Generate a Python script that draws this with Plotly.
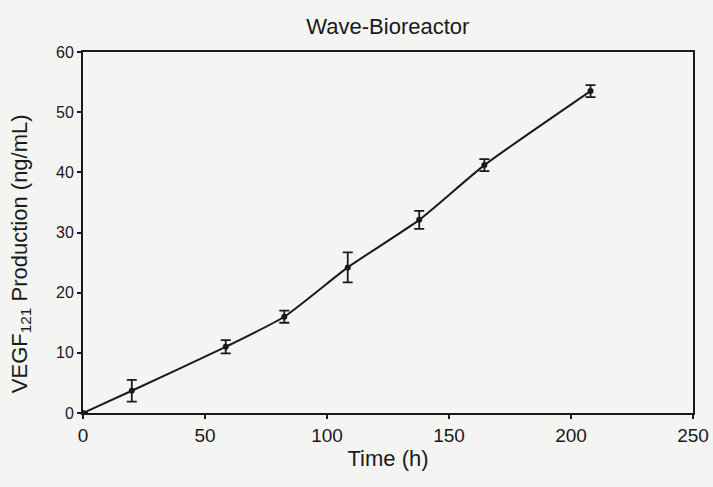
import plotly.graph_objects as go

time_h = [0, 20, 58.5, 82.5, 108.5, 137.8, 164.5, 208]
vegf = [0, 3.7, 11.0, 16.0, 24.2, 32.1, 41.2, 53.5]
vegf_err = [0, 1.8, 1.1, 1.0, 2.5, 1.5, 1.0, 1.0]

x_ticks = [0, 50, 100, 150, 200, 250]
y_ticks = [0, 10, 20, 30, 40, 50, 60]

bg = "#f4f4f2"
ink = "#1a1a1a"

fig = go.Figure()
fig.add_trace(go.Scatter(
    x=time_h, y=vegf,
    mode="lines+markers",
    line=dict(color=ink, width=2, shape="spline", smoothing=0.5),
    marker=dict(color=ink, size=6),
    error_y=dict(type="data", array=vegf_err, visible=True,
                 color=ink, thickness=1.8, width=5),
    showlegend=False,
))

font = "Liberation Sans, Arial, sans-serif"
fig.update_layout(
    width=713, height=487,
    margin=dict(l=83, r=20, t=52, b=74),
    paper_bgcolor=bg, plot_bgcolor=bg,
    font=dict(family=font, color=ink),
    title=dict(text="Wave-Bioreactor", x=0.544, xanchor="center",
               y=0.946, yanchor="middle", font=dict(size=22, family=font, color=ink)),
    xaxis=dict(range=[0, 250], tickvals=x_ticks, showgrid=False, zeroline=False,
               showline=True, linecolor=ink, linewidth=2, mirror=True,
               ticks="outside", ticklen=4, tickwidth=1.5, tickcolor=ink,
               tickfont=dict(size=19), automargin=False,
               title=dict(text="Time (h)", font=dict(size=22), standoff=6)),
    yaxis=dict(range=[0, 60], tickvals=y_ticks, showgrid=False, zeroline=False,
               showline=True, linecolor=ink, linewidth=2, mirror=True,
               ticks="outside", ticklen=4, tickwidth=1.5, tickcolor=ink,
               tickfont=dict(size=16), automargin=False),
    annotations=[dict(
        text="VEGF<sub>121</sub> Production (ng/mL)",
        textangle=-90, xref="paper", yref="paper",
        x=-0.1016, y=0.44, xanchor="center", yanchor="middle",
        showarrow=False, font=dict(size=22, family=font, color=ink),
    )],
)

fig.write_html(
    "out.html",
    config={"displayModeBar": False},
    post_script="document.body.style.margin='0';document.body.style.background='%s';" % bg,
)
